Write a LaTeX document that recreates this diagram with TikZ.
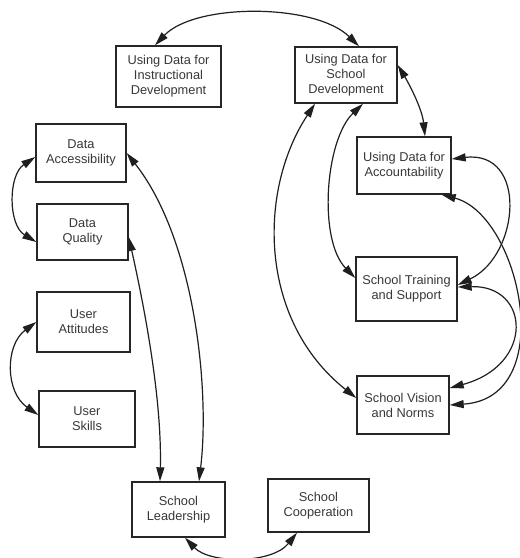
\documentclass[tikz,border=0pt]{standalone}
\usepackage{fontspec}
\setmainfont{Liberation Sans}
\usetikzlibrary{arrows.meta}
\begin{document}
\begin{tikzpicture}[x=1pt,y=-1pt,
  box/.style={draw=black!85, line width=1.4pt, align=center, inner sep=0pt,
    font=\fontsize{12.8}{15}\selectfont, text=black!78},
  link/.style={line width=1.2pt, draw=black!88,
    {Triangle[length=14pt,width=8pt]}-{Triangle[length=14pt,width=8pt]}}]
\clip (0,0) rectangle (520,558);
\fill[white] (0,0) rectangle (520,558);
% boxes
\node[box, minimum width=105pt, minimum height=61pt] (inst) at (168.5,76.5) {Using Data for\\Instructional\\Development};
\node[box, minimum width=102pt, minimum height=56pt] (sdev) at (346,75) {Using Data for\\School\\Development};
\node[box, minimum width=94pt, minimum height=57pt] (acc) at (404,165.5) {Using Data for\\Accountability};
\node[box, minimum width=90pt, minimum height=58pt] (da) at (81,153) {Data\\Accessibility};
\node[box, minimum width=91pt, minimum height=56pt] (dq) at (82.5,232) {Data\\Quality};
\node[box, minimum width=101pt, minimum height=64pt] (train) at (406.5,289) {School Training\\and Support};
\node[box, minimum width=93pt, minimum height=60pt] (ua) at (83.5,322) {User\\Attitudes};
\node[box, minimum width=96pt, minimum height=56pt] (us) at (87,419) {User\\Skills};
\node[box, minimum width=92pt, minimum height=58pt] (vis) at (403,405) {School Vision\\and Norms};
\node[box, minimum width=93pt, minimum height=55pt] (sl) at (178.5,509.5) {School\\Leadership};
\node[box, minimum width=101pt, minimum height=53pt] (sc) at (318.5,505.5) {School\\Cooperation};
% connectors
\draw[link] ([xshift=-13.5pt]inst.north) .. controls (195,3) and (315,3) .. ([xshift=13pt]sdev.north);
\draw[link] ([yshift=10pt]sdev.east) .. controls (408,82) and (422,108) .. ([xshift=21pt]acc.north);
\draw[link] ([yshift=-4pt]da.west) .. controls (8,175) and (8,225) .. ([yshift=-10pt]dq.west);
\draw[link] (ua.west) .. controls (5,345) and (5,392) .. ([yshift=4pt]us.west);
\draw[link] (da.east) .. controls (195,240) and (210,390) .. ([xshift=20.5pt]sl.north);
\draw[link] ([yshift=-5pt]dq.east) .. controls (145,310) and (162,400) .. ([xshift=-18.5pt]sl.north);
\draw[link] ([xshift=6.5pt]sl.south) .. controls (210,564) and (272,564) .. ([xshift=-21.5pt]sc.south);
\draw[link] ([xshift=-31pt]sdev.south) .. controls (258,190) and (258,320) .. ([yshift=7pt]vis.west);
\draw[link] ([xshift=17pt]sdev.south) .. controls (325,140) and (318,240) .. ([yshift=11pt]train.west);
\draw[link] ([yshift=6.5pt]acc.east) .. controls (528,150) and (520,255) .. ([yshift=4pt]train.east);
\draw[link] ([xshift=-10pt]acc.south east) .. controls (520,215) and (560,398) .. (vis.east);
\draw[link] ([yshift=2pt]train.east) .. controls (530,285) and (535,365) .. ([yshift=17pt]vis.east);
\end{tikzpicture}
\end{document}
